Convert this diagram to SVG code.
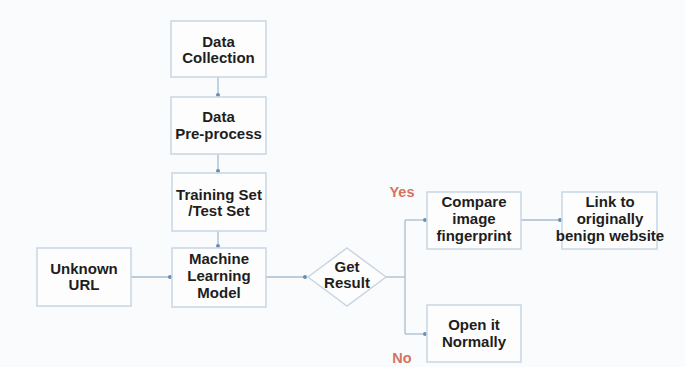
<svg xmlns="http://www.w3.org/2000/svg" width="685" height="367" viewBox="0 0 685 367">
<style>
.box{fill:#fdfdfd;stroke:#c9d6e3;stroke-width:1.5}
.t{font-family:"Liberation Sans",Arial,sans-serif;font-weight:bold;font-size:15px;fill:#1e1e1e;text-anchor:middle}
.lbl{font-family:"Liberation Sans",Arial,sans-serif;font-weight:bold;font-size:14.5px;fill:#d4745c;text-anchor:middle}
.c{fill:none;stroke:#a9bdd0;stroke-width:1.3}
</style>
<defs>
<marker id="dot" viewBox="0 0 6 6" refX="3" refY="3" markerWidth="4" markerHeight="4" markerUnits="userSpaceOnUse">
<circle cx="3" cy="3" r="3" fill="#6a8db2"/>
</marker>
</defs>
<rect width="685" height="367" fill="#fafbfc"/>
<g id="connectors">
<line class="c" x1="218" y1="77" x2="218" y2="95" marker-end="url(#dot)"/>
<line class="c" x1="218" y1="154" x2="218" y2="171" marker-end="url(#dot)"/>
<line class="c" x1="218" y1="231" x2="218" y2="246" marker-end="url(#dot)"/>
<line class="c" x1="131" y1="277" x2="170" y2="277" marker-end="url(#dot)"/>
<line class="c" x1="266" y1="277" x2="305" y2="277" marker-end="url(#dot)"/>
<polyline class="c" points="386,277 405,277"/>
<polyline class="c" points="405,220 405,334"/>
<line class="c" x1="405" y1="220" x2="425" y2="220" marker-end="url(#dot)"/>
<line class="c" x1="405" y1="334" x2="425" y2="334" marker-end="url(#dot)"/>
<line class="c" x1="521" y1="220" x2="560" y2="220" marker-end="url(#dot)"/>
</g>
<g id="data-collection">
<rect class="box" x="171" y="21" width="95" height="56"/>
<text class="t" x="218.5" y="47">Data</text>
<text class="t" x="218.5" y="63">Collection</text>
</g>
<g id="data-preprocess">
<rect class="box" x="171" y="97" width="95" height="57"/>
<text class="t" x="218.5" y="122">Data</text>
<text class="t" x="218.5" y="139">Pre-process</text>
</g>
<g id="training-set">
<rect class="box" x="172" y="173" width="94" height="58"/>
<text class="t" x="219" y="200">Training Set</text>
<text class="t" x="219" y="216">/Test Set</text>
</g>
<g id="ml-model">
<rect class="box" x="172" y="248" width="94" height="59"/>
<text class="t" x="219" y="264">Machine</text>
<text class="t" x="219" y="281">Learning</text>
<text class="t" x="219" y="298">Model</text>
</g>
<g id="unknown-url">
<rect class="box" x="37" y="248" width="94" height="58"/>
<text class="t" x="84" y="274">Unknown</text>
<text class="t" x="84" y="290">URL</text>
</g>
<g id="get-result">
<polygon class="box" points="347,248 386,277 347,306 308,277"/>
<text class="t" x="347" y="272">Get</text>
<text class="t" x="347" y="288">Result</text>
</g>
<g id="compare">
<rect class="box" x="427" y="192" width="94" height="57"/>
<text class="t" x="474" y="207">Compare</text>
<text class="t" x="474" y="224">image</text>
<text class="t" x="474" y="241">fingerprint</text>
</g>
<g id="link">
<rect class="box" x="562" y="192" width="95" height="57"/>
<text class="t" x="610" y="207">Link to</text>
<text class="t" x="610" y="224">originally</text>
<text class="t" x="610" y="241">benign website</text>
</g>
<g id="open-normally">
<rect class="box" x="427" y="305" width="94" height="57"/>
<text class="t" x="474" y="330">Open it</text>
<text class="t" x="474" y="347">Normally</text>
</g>
<g id="labels">
<text class="lbl" x="402" y="197">Yes</text>
<text class="lbl" x="402" y="363">No</text>
</g>
</svg>
